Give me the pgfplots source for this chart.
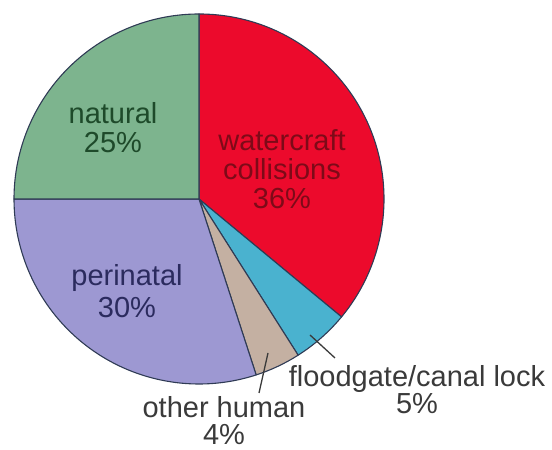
\documentclass[border=0pt]{standalone}
\usepackage{pgfplots}
\pgfplotsset{compat=1.18}
\usepackage{fontspec}
\setmainfont{Liberation Sans}

\definecolor{cWater}{HTML}{EC0A2C}
\definecolor{cFlood}{HTML}{4AB2CF}
\definecolor{cOther}{HTML}{C4B0A2}
\definecolor{cPeri}{HTML}{9D98D2}
\definecolor{cNat}{HTML}{7DB48E}
\definecolor{cEdge}{HTML}{2F3B55}
\definecolor{tWater}{HTML}{7E0A18}
\definecolor{tNat}{HTML}{1E4A2A}
\definecolor{tPeri}{HTML}{2B2B5E}
\definecolor{tOut}{HTML}{3A3A3A}

\tikzset{lbl/.style={anchor=base, inner sep=0pt, font=\fontsize{29bp}{32bp}\selectfont}}

% pie geometry (axis units are 1bp)
\def\cx{199}
\def\cy{251}
\def\rad{185}

% \slice{cumulative percent before}{percent}{colour}; slices run clockwise from 12 o'clock
\newcommand\slice[3]{%
  \filldraw[fill=#3, draw=cEdge, line width=1.1bp, line join=round]
    (axis cs:\cx,\cy) -- ++({90-3.6*(#1)}:\rad bp)
    arc[start angle={90-3.6*(#1)}, delta angle={-3.6*(#2)}, radius=\rad bp] -- cycle;}

\begin{document}
\begin{tikzpicture}
\begin{axis}[
  scale only axis, width=552bp, height=450bp,
  xmin=0, xmax=552, ymin=0, ymax=450,
  hide axis, clip=false,
]
\path (rel axis cs:0,0) rectangle (rel axis cs:1,1);

\slice{0}{36}{cWater}
\slice{36}{5}{cFlood}
\slice{41}{4}{cOther}
\slice{45}{30}{cPeri}
\slice{75}{25}{cNat}

% labels inside the slices
\node[lbl, text=tNat] at (axis cs:113,326) {natural};
\node[lbl, text=tNat] at (axis cs:113,297) {25\%};
\node[lbl, text=tWater] at (axis cs:282,299) {watercraft};
\node[lbl, text=tWater] at (axis cs:282,270) {collisions};
\node[lbl, text=tWater] at (axis cs:282,241) {36\%};
\node[lbl, text=tPeri] at (axis cs:127,164) {perinatal};
\node[lbl, text=tPeri] at (axis cs:127,132) {30\%};

% small slices labelled outside with leader lines
\draw[tOut, line width=1.3bp] (axis cs:310,115) -- (axis cs:335,92);
\draw[tOut, line width=1.3bp] (axis cs:268,97) -- (axis cs:259,57);
\node[lbl, text=tOut] at (axis cs:417,63) {floodgate/canal lock};
\node[lbl, text=tOut] at (axis cs:417,36) {5\%};
\node[lbl, text=tOut] at (axis cs:224,32) {other human};
\node[lbl, text=tOut] at (axis cs:224,5) {4\%};
\end{axis}
\end{tikzpicture}
\end{document}
